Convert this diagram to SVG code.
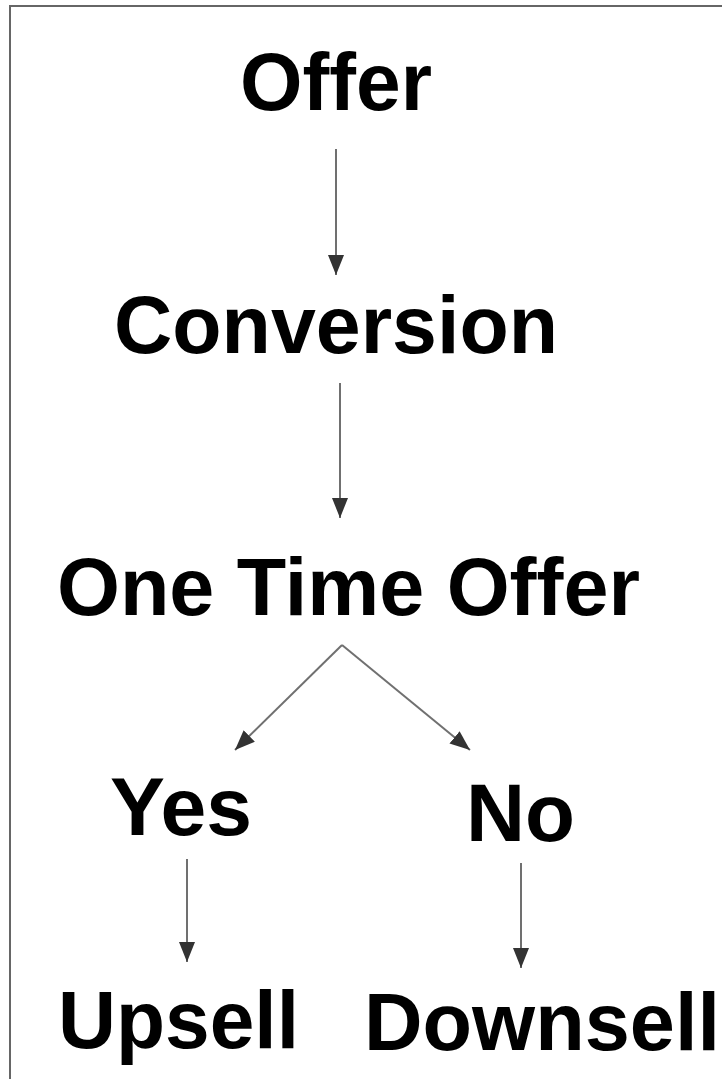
<svg xmlns="http://www.w3.org/2000/svg" width="722" height="1079" viewBox="0 0 722 1079">
<style>
.t{font-family:"Liberation Sans",Arial,sans-serif;font-weight:bold;font-size:81px;fill:#000}
.c{stroke:#707070;stroke-width:2;fill:none;marker-end:url(#ah)}
</style>
<defs>
<marker id="ah" viewBox="0 0 20 16" refX="20" refY="8" markerWidth="20" markerHeight="16" markerUnits="userSpaceOnUse" orient="auto">
<path d="M0,0 L20,8 L0,16 Z" fill="#333"/>
</marker>
</defs>
<rect x="0" y="0" width="722" height="1079" fill="#fff"/>
<path d="M10,1079 V6 H722" fill="none" stroke="#666" stroke-width="2"/>
<g id="connectors">
<line class="c" x1="336" y1="149" x2="336" y2="275"/>
<line class="c" x1="340" y1="383" x2="340" y2="518"/>
<line class="c" x1="342" y1="645" x2="235" y2="750"/>
<line class="c" x1="342" y1="645" x2="470" y2="750"/>
<line class="c" x1="187" y1="859" x2="187" y2="962"/>
<line class="c" x1="521" y1="863" x2="521" y2="968"/>
</g>
<g id="offer"><text class="t" x="240" y="110" textLength="192" lengthAdjust="spacingAndGlyphs">Offer</text></g>
<g id="conversion"><text class="t" x="114" y="353" textLength="444" lengthAdjust="spacingAndGlyphs">Conversion</text></g>
<g id="one-time-offer"><text class="t" x="57" y="615" textLength="583" lengthAdjust="spacingAndGlyphs">One Time Offer</text></g>
<g id="yes"><text class="t" x="110" y="835" textLength="142" lengthAdjust="spacingAndGlyphs">Yes</text></g>
<g id="no"><text class="t" x="466" y="841" textLength="109" lengthAdjust="spacingAndGlyphs">No</text></g>
<g id="upsell"><text class="t" x="58" y="1048" textLength="241" lengthAdjust="spacingAndGlyphs">Upsell</text></g>
<g id="downsell"><text class="t" x="364" y="1050" textLength="356" lengthAdjust="spacingAndGlyphs">Downsell</text></g>
</svg>
